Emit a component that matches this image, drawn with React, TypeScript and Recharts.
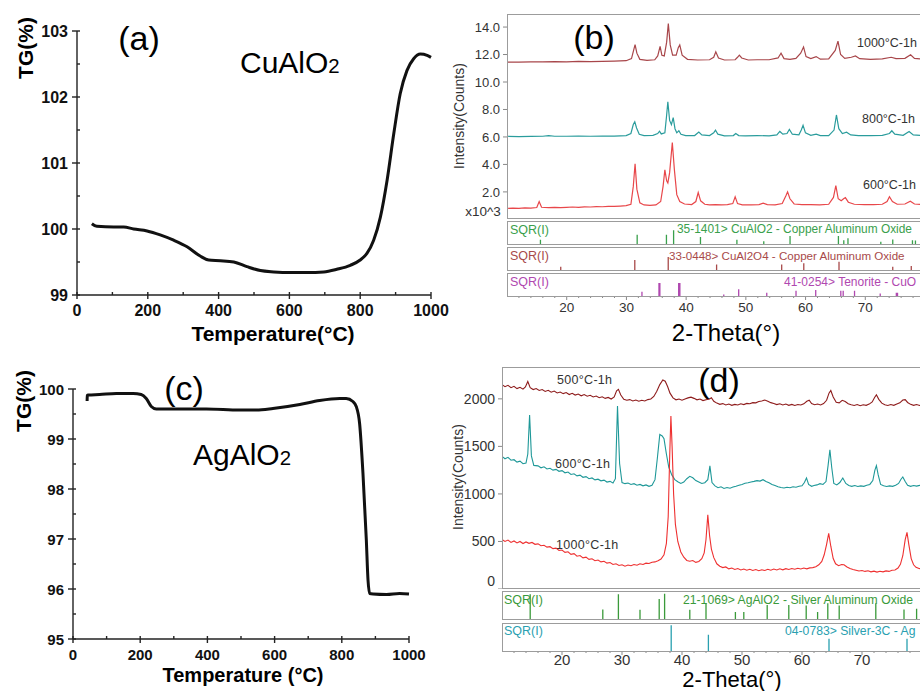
import React from 'react';
import { LineChart, Line, XAxis, YAxis } from 'recharts';

type Pt = [number, number];
type Stick = [number, number];

const FONT = '"Liberation Sans", Arial, Helvetica, sans-serif';

// ---- TG curves (temperature °C, mass %) ----
const tgCuAlO2: Pt[] = [
  [42, 100.08], [56, 100.04], [104, 100.03], [132, 100.03], [160, 100.0], [198, 99.97],
  [235, 99.91], [273, 99.83], [311, 99.73], [348, 99.59], [372, 99.53], [405, 99.52],
  [443, 99.5], [480, 99.43], [518, 99.37], [556, 99.35], [603, 99.34], [650, 99.34],
  [697, 99.35], [734, 99.39], [772, 99.45], [800, 99.53], [819, 99.63], [838, 99.83],
  [857, 100.18], [876, 100.74], [895, 101.45], [913, 102.05], [932, 102.4], [951, 102.58],
  [970, 102.65], [989, 102.63], [1000, 102.6],
];

const tgAgAlO2: Pt[] = [
  [42, 99.76], [42.5, 99.87], [45, 99.88], [79, 99.89], [129, 99.91], [179, 99.91],
  [203, 99.89], [218, 99.81], [233, 99.65], [248, 99.6], [298, 99.6], [397, 99.6],
  [496, 99.58], [546, 99.58], [595, 99.61], [675, 99.69], [734, 99.77], [794, 99.81],
  [813, 99.81], [833, 99.75], [843, 99.65], [853, 99.31], [863, 98.31], [873, 96.98],
  [878, 96.18], [883, 95.91], [893, 95.9], [933, 95.89], [972, 95.91], [1000, 95.9],
];

const tgXTicks = [0, 100, 200, 300, 400, 500, 600, 700, 800, 900, 1000];
const tgYTicksA = [99, 99.5, 100, 100.5, 101, 101.5, 102, 102.5, 103];
const tgYTicksC = [95, 95.5, 96, 96.5, 97, 97.5, 98, 98.5, 99, 99.5, 100];

// ---- XRD (b): CuAlO2, intensity x10^3 ----
const xrdB600: Pt[] = [
  [10, 0.8], [11, 0.82], [12, 0.8], [13, 0.83], [14, 0.82], [15, 0.86], [15.4, 1.3], [15.8, 0.88],
  [17, 0.85], [18, 0.87], [19, 0.86], [20, 0.88], [21, 0.9], [22, 0.88], [23, 0.91], [24, 0.9],
  [25, 0.93], [26, 0.92], [27, 0.95], [28, 0.94], [29, 0.97], [30, 1.0], [30.8, 1.1], [31.2, 2.4],
  [31.5, 4.05], [31.8, 2.2], [32.3, 1.2], [33, 1.05], [34, 1.02], [35, 1.05], [35.8, 1.3], [36.2, 2.4],
  [36.5, 3.6], [36.8, 2.8], [37.0, 2.65], [37.3, 3.4], [37.75, 5.6], [38.1, 3.6], [38.5, 1.8], [39, 1.3],
  [39.8, 1.12], [41, 1.08], [41.7, 1.3], [42.1, 1.95], [42.5, 1.35], [43.2, 1.1], [44, 1.06], [45, 1.08],
  [46, 1.05], [47, 1.07], [47.9, 1.15], [48.3, 1.65], [48.7, 1.15], [49.5, 1.06], [51, 1.05], [52.3, 1.08],
  [53, 1.18], [53.7, 1.08], [55, 1.06], [56.2, 1.15], [56.8, 1.7], [57.1, 2.0], [57.5, 1.5], [58.2, 1.12],
  [59.5, 1.07], [61, 1.08], [62.5, 1.06], [64, 1.1], [64.8, 1.6], [65.2, 2.45], [65.6, 1.5], [66.1, 1.35],
  [66.5, 1.5], [66.8, 1.58], [67.3, 1.25], [68.3, 1.1], [70, 1.08], [71.5, 1.07], [73, 1.1], [73.8, 1.3],
  [74.2, 1.65], [74.7, 1.3], [75.5, 1.1], [76.8, 1.12], [77.7, 1.32], [78.4, 1.12], [80, 1.08],
];

const xrdB800: Pt[] = [
  [10, 6.05], [12, 6.02], [14, 6.04], [16, 6.05], [17, 6.1], [18, 6.05], [20, 6.05], [22, 6.06],
  [24, 6.05], [26, 6.07], [28, 6.06], [30, 6.1], [30.8, 6.25], [31.2, 6.9], [31.45, 7.1], [31.75, 6.65],
  [32.2, 6.2], [33, 6.1], [34.5, 6.12], [35.3, 6.25], [35.6, 6.42], [35.9, 6.22], [36.5, 6.3], [36.8, 7.6],
  [37.0, 8.55], [37.3, 7.2], [37.6, 6.9], [37.9, 7.4], [38.2, 6.6], [38.5, 6.3], [38.85, 6.45], [39.2, 6.2],
  [40, 6.1], [41.5, 6.1], [42.2, 6.35], [42.7, 6.15], [44, 6.1], [44.7, 6.3], [45, 6.5], [45.4, 6.2],
  [46.5, 6.08], [48, 6.1], [48.4, 6.25], [48.9, 6.1], [50, 6.08], [52, 6.1], [54, 6.08], [55.3, 6.15],
  [55.8, 6.4], [56.3, 6.2], [57, 6.25], [57.4, 6.55], [57.9, 6.2], [59, 6.15], [59.4, 6.5], [59.7, 6.85],
  [60.1, 6.3], [61, 6.12], [61.9, 6.2], [62.6, 6.1], [64, 6.1], [64.9, 6.5], [65.3, 7.6], [65.7, 6.6],
  [66.3, 6.25], [67.0, 6.35], [67.7, 6.15], [69, 6.1], [71, 6.1], [73, 6.12], [74.2, 6.25], [74.6, 6.45],
  [75.1, 6.2], [76.5, 6.12], [77.5, 6.4], [78.2, 6.15], [80, 6.1],
];

const xrdB1000: Pt[] = [
  [10, 11.45], [12, 11.45], [14, 11.47], [16, 11.46], [18, 11.48], [20, 11.47], [22, 11.5], [24, 11.49],
  [26, 11.5], [28, 11.52], [30, 11.55], [30.9, 11.7], [31.25, 12.3], [31.5, 12.72], [31.8, 12.1], [32.3, 11.65],
  [33.5, 11.57], [34.8, 11.62], [35.3, 11.9], [35.7, 12.6], [36.0, 11.95], [36.4, 11.9], [36.8, 12.9], [37.08, 14.25],
  [37.4, 12.7], [37.8, 11.95], [38.4, 11.95], [38.75, 12.5], [39.0, 12.7], [39.4, 11.95], [40.3, 11.65], [42, 11.6],
  [44, 11.62], [44.7, 11.8], [45.05, 12.2], [45.5, 11.75], [46.5, 11.6], [48.3, 11.62], [48.7, 11.8], [49.0, 11.95],
  [49.4, 11.75], [50.5, 11.6], [52, 11.62], [54, 11.62], [55.5, 11.75], [56.0, 12.1], [56.5, 11.7], [57.5, 11.65],
  [58.5, 11.72], [59.3, 12.1], [59.78, 12.55], [60.2, 11.85], [61, 11.7], [61.9, 11.85], [62.6, 11.66], [64, 11.68],
  [65.1, 12.3], [65.56, 12.98], [66.0, 12.0], [66.7, 11.72], [67.8, 11.8], [68.5, 11.9], [69.2, 11.7], [71, 11.65],
  [73, 11.68], [74.5, 11.8], [75.3, 11.7], [76.8, 11.72], [77.75, 11.98], [78.4, 11.72], [80, 11.65],
];

// reference patterns (2θ, relative height)
const refCuAlO2: Stick[] = [
  [15.6, 0.18], [31.8, 0.4], [36.7, 0.4], [37.9, 0.6], [42.4, 0.3], [48.5, 0.18], [53.0, 0.12],
  [57.4, 0.35], [65.5, 0.35], [66.4, 0.16], [67.1, 0.25], [72.6, 0.1], [74.6, 0.2], [77.9, 0.16], [78.4, 0.15],
];
const refCuAl2O4: Stick[] = [
  [19.0, 0.14], [31.4, 0.43], [37.0, 0.57], [45.1, 0.24], [56.0, 0.24], [59.7, 0.29], [65.6, 0.36],
  [74.6, 0.14], [77.7, 0.17],
];
const refTenorite: Stick[] = [
  [32.6, 0.19], [35.45, 0.57], [35.6, 0.57], [38.75, 0.57], [38.95, 0.57], [46.3, 0.07], [48.8, 0.29],
  [53.5, 0.14], [58.4, 0.23], [61.7, 0.26], [65.9, 0.23], [66.3, 0.23], [68.2, 0.23], [72.5, 0.11],
  [75.2, 0.14], [75.4, 0.14],
];

// ---- XRD (d): AgAlO2, counts ----
const xrdD500: Pt[] = [
  [10, 2150], [10.5, 2128], [11, 2142], [11.5, 2118], [12, 2132], [12.5, 2108], [13, 2122], [13.5, 2102],
  [13.9, 2125], [14.3, 2182], [14.7, 2118], [15.2, 2098], [15.7, 2108], [16.2, 2088], [16.7, 2098], [17.2, 2078],
  [17.7, 2090], [18.2, 2070], [18.7, 2082], [19.2, 2062], [19.7, 2072], [20.2, 2055], [20.7, 2066], [21.2, 2045],
  [21.7, 2058], [22.2, 2040], [22.7, 2050], [23.2, 2032], [23.7, 2045], [24.2, 2028], [24.7, 2038], [25.2, 2020],
  [25.7, 2030], [26.2, 2012], [26.7, 2022], [27.2, 2005], [27.7, 2015], [28.2, 1998], [28.7, 2020], [29.1, 2085],
  [29.4, 2100], [29.8, 2040], [30.3, 1995], [30.8, 1985], [31.3, 1992], [31.8, 1978], [32.3, 1988], [32.8, 1975],
  [33.3, 1985], [33.8, 1978], [34.3, 1992], [34.8, 1998], [35.3, 2025], [35.8, 2080], [36.3, 2150], [36.8, 2198],
  [37.2, 2185], [37.6, 2130], [38, 2060], [38.5, 2010], [39, 1990], [39.5, 1998], [40, 1985], [40.5, 1998],
  [41, 2010], [41.5, 2018], [42, 2005], [42.5, 1990], [43, 1998], [43.5, 1982], [44, 1990], [44.5, 1995],
  [44.9, 2012], [45.3, 1975], [45.8, 1955], [46.3, 1942], [46.8, 1950], [47.3, 1935], [47.8, 1945], [48.3, 1932],
  [48.8, 1942], [49.3, 1935], [49.8, 1948], [50.3, 1940], [50.8, 1952], [51.3, 1948], [51.8, 1960], [52.3, 1958],
  [52.8, 1972], [53.3, 1978], [53.8, 1988], [54.3, 1975], [54.8, 1960], [55.3, 1952], [55.8, 1940], [56.3, 1948],
  [56.8, 1935], [57.3, 1945], [57.8, 1932], [58.3, 1942], [58.8, 1930], [59.3, 1940], [59.8, 1935], [60.3, 1948],
  [60.8, 1975], [61.2, 1985], [61.6, 1950], [62.1, 1938], [62.6, 1945], [63.1, 1935], [63.6, 1950], [64.1, 1985],
  [64.5, 2060], [64.8, 2088], [65.2, 2020], [65.7, 1965], [66.2, 1958], [66.7, 1985], [67.2, 1972], [67.7, 1948],
  [68.2, 1938], [68.7, 1930], [69.2, 1940], [69.7, 1928], [70.2, 1938], [70.7, 1932], [71.2, 1945], [71.7, 1968],
  [72.1, 2015], [72.4, 2042], [72.8, 1995], [73.3, 1955], [73.8, 1938], [74.3, 1930], [74.8, 1940], [75.3, 1932],
  [75.8, 1945], [76.3, 1958], [76.8, 1988], [77.2, 1992], [77.6, 1962], [78.1, 1942], [78.6, 1932], [79.1, 1940],
  [79.6, 1930], [80, 1938],
];

const xrdD600: Pt[] = [
  [10, 1395], [10.5, 1370], [11, 1385], [11.5, 1355], [12, 1360], [12.5, 1335], [13, 1345], [13.5, 1318],
  [14, 1325], [14.3, 1420], [14.6, 1830], [14.9, 1400], [15.3, 1300], [16, 1295], [16.5, 1275], [17, 1285],
  [17.5, 1262], [18, 1270], [18.5, 1250], [19, 1258], [19.5, 1238], [20, 1245], [20.5, 1222], [21, 1230],
  [21.5, 1205], [22, 1212], [22.5, 1190], [23, 1198], [23.5, 1175], [24, 1182], [24.5, 1160], [25, 1168],
  [25.5, 1148], [26, 1155], [26.5, 1138], [27, 1145], [27.5, 1125], [28, 1132], [28.5, 1115], [28.9, 1160],
  [29.25, 1925], [29.6, 1320], [30, 1120], [30.5, 1108], [31, 1115], [31.5, 1100], [32, 1108], [32.5, 1092],
  [33, 1100], [33.5, 1085], [34, 1095], [34.5, 1080], [35, 1090], [35.5, 1150], [35.9, 1380], [36.3, 1625],
  [36.7, 1610], [37, 1580], [37.4, 1420], [37.8, 1280], [38.3, 1200], [38.8, 1150], [39.3, 1128], [39.8, 1110],
  [40.3, 1125], [40.8, 1160], [41.3, 1185], [41.8, 1170], [42.3, 1140], [42.8, 1125], [43.3, 1110], [43.8, 1118],
  [44.3, 1150], [44.65, 1295], [45, 1120], [45.5, 1085], [46, 1065], [46.5, 1075], [47, 1058], [47.5, 1068],
  [48, 1060], [48.5, 1072], [49, 1080], [49.5, 1092], [50, 1100], [50.5, 1112], [51, 1118], [51.5, 1125],
  [52, 1132], [52.5, 1140], [53, 1135], [53.5, 1150], [54, 1130], [54.5, 1118], [55, 1100], [55.5, 1088],
  [56, 1075], [56.5, 1068], [57, 1062], [57.5, 1070], [58, 1065], [58.5, 1075], [59, 1070], [59.5, 1080],
  [60, 1085], [60.4, 1120], [60.75, 1168], [61.1, 1100], [61.6, 1080], [62, 1088], [62.5, 1095], [63, 1108],
  [63.5, 1100], [64, 1130], [64.35, 1300], [64.65, 1465], [64.95, 1280], [65.3, 1110], [65.8, 1095], [66.3, 1120],
  [66.8, 1168], [67.3, 1110], [67.8, 1088], [68.3, 1080], [68.8, 1088], [69.3, 1078], [69.8, 1085], [70.3, 1080],
  [70.8, 1092], [71.3, 1100], [71.8, 1140], [72.15, 1250], [72.4, 1297], [72.7, 1200], [73.1, 1100], [73.6, 1085],
  [74.1, 1078], [74.6, 1085], [75.1, 1080], [75.6, 1092], [76.1, 1110], [76.5, 1155], [76.8, 1178], [77.2, 1130],
  [77.6, 1090], [78.1, 1080], [78.6, 1088], [79.1, 1082], [79.6, 1090], [80, 1085],
];

const xrdD1000: Pt[] = [
  [10, 520], [10.5, 500], [11, 515], [11.5, 490], [12, 505], [12.5, 485], [13, 500], [13.5, 478],
  [14, 495], [14.5, 480], [15, 490], [15.5, 470], [16, 475], [16.5, 455], [17, 460], [17.5, 440],
  [18, 445], [18.5, 425], [19, 430], [19.5, 405], [20, 410], [20.5, 385], [21, 392], [21.5, 365],
  [22, 372], [22.5, 345], [23, 352], [23.5, 328], [24, 335], [24.5, 312], [25, 318], [25.5, 298],
  [26, 305], [26.5, 285], [27, 292], [27.5, 272], [28, 278], [28.5, 258], [29, 265], [29.5, 248],
  [30, 255], [30.5, 240], [31, 252], [31.5, 245], [32, 258], [32.5, 250], [33, 265], [33.5, 258],
  [34, 272], [34.5, 268], [35, 282], [35.5, 285], [36, 298], [36.5, 315], [37, 360], [37.4, 480],
  [37.7, 760], [37.95, 1400], [38.15, 1820], [38.35, 1500], [38.6, 1000], [38.9, 680], [39.3, 500], [39.8, 390],
  [40.3, 335], [40.8, 300], [41.3, 292], [41.8, 300], [42.3, 280], [42.8, 290], [43.3, 318], [43.7, 380],
  [44.0, 520], [44.3, 780], [44.6, 560], [44.9, 420], [45.3, 330], [45.8, 265], [46.3, 240], [46.8, 225],
  [47.3, 232], [47.8, 212], [48.3, 220], [48.8, 205], [49.3, 215], [49.8, 200], [50.3, 210], [50.8, 198],
  [51.3, 208], [51.8, 195], [52.3, 205], [52.8, 192], [53.3, 202], [53.8, 195], [54.3, 208], [54.8, 198],
  [55.3, 210], [55.8, 200], [56.3, 212], [56.8, 202], [57.3, 214], [57.8, 205], [58.3, 215], [58.8, 208],
  [59.3, 218], [59.8, 210], [60.3, 220], [60.8, 212], [61.3, 222], [61.8, 225], [62.3, 235], [62.8, 255],
  [63.3, 290], [63.7, 360], [64.1, 470], [64.45, 585], [64.8, 450], [65.2, 320], [65.6, 265], [66.1, 245],
  [66.6, 258], [67.0, 255], [67.5, 232], [68, 215], [68.5, 205], [69, 198], [69.5, 190], [70, 195],
  [70.5, 185], [71, 192], [71.5, 180], [72, 188], [72.5, 178], [73, 186], [73.5, 180], [74, 190],
  [74.5, 185], [75, 198], [75.5, 200], [76, 220], [76.4, 260], [76.8, 350], [77.2, 520], [77.5, 595],
  [77.8, 470], [78.2, 320], [78.6, 255], [79, 228], [79.5, 215], [80, 212],
];

const refAgAlO2: Stick[] = [
  [14.7, 0.88], [26.8, 0.34], [29.4, 0.88], [33.0, 0.33], [36.2, 0.71], [37.1, 0.9], [41.3, 0.33],
  [44.0, 0.56], [48.9, 0.25], [50.3, 0.25], [54.2, 0.5], [57.8, 0.5], [60.7, 0.48], [62.6, 0.25],
  [64.3, 0.56], [66.2, 0.48], [72.3, 0.56], [77.0, 0.34], [79.1, 0.37],
];
const refSilver: Stick[] = [[38.2, 0.92], [44.4, 0.58], [64.5, 0.44], [77.5, 0.44]];

const xrdXTicks = [12, 14, 16, 18, 20, 22, 24, 26, 28, 30, 32, 34, 36, 38, 40, 42, 44, 46, 48, 50,
  52, 54, 56, 58, 60, 62, 64, 66, 68, 70, 72, 74, 76, 78];
const xrdBYTicks = [2, 4, 6, 8, 10, 12, 14];
const xrdDYTicks = [0, 500, 1000, 1500, 2000];

const rows = (pts: Pt[]) => pts.map(([x, y]) => ({ x, y }));
// each stick becomes a tiny vertical segment; the null breaks the path between sticks
const stickRows = (sticks: Stick[]) =>
  sticks.flatMap(([x, h]) => [{ x, y: 0 }, { x, y: h }, { x, y: null }]);

// ---------- small helpers ----------
function Txt({ x, y, size, children, color = '#000', bold = false, anchor = 'middle', rotate = 0, spacing = 0 }: any) {
  const tx = anchor === 'middle' ? '-50%' : anchor === 'end' ? '-100%' : '0';
  return (
    <div
      style={{
        position: 'absolute', left: x, top: y, fontFamily: FONT, fontSize: size, color,
        fontWeight: bold ? 'bold' : 'normal', whiteSpace: 'nowrap', lineHeight: 1,
        letterSpacing: spacing,
        transform: `translate(${tx}, -50%)${rotate ? ` rotate(${rotate}deg)` : ''}`,
        transformOrigin: rotate ? '50% 50%' : undefined,
      }}
    >
      {children}
    </div>
  );
}

function Frame({ x, y, w, h }: any) {
  return (
    <div style={{ position: 'absolute', left: x, top: y, width: w, height: h, border: '1.5px solid #9c9c9c', boxSizing: 'border-box' }} />
  );
}

// TG axes: major ticks cross the axis line, minor ticks point inward
const TgTickX = (props: any) => {
  const { x, y, payload, size } = props;
  const major = payload.value % 200 === 0;
  return (
    <g>
      <line x1={x} y1={y - 3} x2={x} y2={y + (major ? 4 : 0)} stroke="#222" strokeWidth={1.4} />
      {major && (
        <text x={x} y={y + 21} textAnchor="middle" fontSize={size} fontWeight="bold" fontFamily={FONT} fill="#111">
          {payload.value}
        </text>
      )}
    </g>
  );
};

const TgTickY = (props: any) => {
  const { x, y, payload, size } = props;
  const major = Number.isInteger(payload.value);
  return (
    <g>
      <line x1={x + 3} y1={y} x2={x - (major ? 5 : 0)} y2={y} stroke="#222" strokeWidth={1.4} />
      {major && (
        <text x={x - 9} y={y + 5.5} textAnchor="end" fontSize={size} fontWeight="bold" fontFamily={FONT} fill="#111">
          {payload.value}
        </text>
      )}
    </g>
  );
};

const XrdTickX = (props: any) => {
  const { x, y, payload, size, dy } = props;
  const major = payload.value % 10 === 0;
  return (
    <g>
      <line x1={x} y1={y} x2={x} y2={y + (major ? 4 : 2)} stroke="#888" strokeWidth={1} />
      {major && (
        <text x={x} y={y + dy} textAnchor="middle" fontSize={size} fontFamily={FONT} fill="#333">
          {payload.value}
        </text>
      )}
    </g>
  );
};

// the "0" label of panel (d) sits a little above its tick, as in the original
const XrdTickYD = (props: any) => {
  const { x, y, payload } = props;
  return (
    <text x={x} y={y + 5 - (payload.value === 0 ? 8 : 0)} textAnchor="end" fontSize={14} fontFamily={FONT} fill="#333">
      {payload.value}
    </text>
  );
};

function TgPanel({ left, top, width, height, margin, data, yDomain, yTicks, fontSize }: any) {
  return (
    <div style={{ position: 'absolute', left, top }}>
      <LineChart width={width} height={height} data={rows(data)} margin={margin}>
        <XAxis
          dataKey="x" type="number" domain={[0, 1000]} ticks={tgXTicks} interval={0} height={30}
          tickSize={0} tickMargin={0} tickLine={false} tick={<TgTickX size={fontSize} />}
          axisLine={{ stroke: '#222', strokeWidth: 1.4 }}
        />
        <YAxis
          type="number" domain={yDomain} ticks={yTicks} interval={0} width={60}
          tickSize={0} tickMargin={0} tickLine={false} tick={<TgTickY size={fontSize} />}
          axisLine={{ stroke: '#222', strokeWidth: 1.4 }}
        />
        <Line dataKey="y" type="monotone" stroke="#111" strokeWidth={3} dot={false} isAnimationActive={false} />
      </LineChart>
    </div>
  );
}

function StickPanel({ left, top, width, height, sticks, color, withAxis = false, tickSize = 14, tickDy = 16 }: any) {
  return (
    <div style={{ position: 'absolute', left, top }}>
      <LineChart width={width} height={height + (withAxis ? 30 : 0)} data={stickRows(sticks)} margin={{ top: 0, right: 0, bottom: 0, left: 0 }}>
        <XAxis
          dataKey="x" type="number" domain={[10, 80]} ticks={xrdXTicks} interval={0}
          hide={!withAxis} height={30} axisLine={false} tickLine={false} tickSize={0} tickMargin={0}
          tick={<XrdTickX size={tickSize} dy={tickDy} />}
        />
        <YAxis type="number" domain={[0, 1]} hide />
        <Line dataKey="y" type="linear" stroke={color} strokeWidth={1.3} dot={false} connectNulls={false} isAnimationActive={false} />
      </LineChart>
    </div>
  );
}

export default function App() {
  return (
    <div style={{ position: 'absolute', left: 0, top: 0, width: 920, height: 691, overflow: 'hidden', background: '#fff' }}>
      {/* (a) TG of CuAlO2 */}
      <TgPanel
        left={0} top={0} width={450} height={340}
        margin={{ top: 31, right: 19, bottom: 15, left: 17 }}
        data={tgCuAlO2} yDomain={[99, 103]} yTicks={tgYTicksA} fontSize={16}
      />
      <Txt x={25} y={48} size={21} bold rotate={-90}>TG(%)</Txt>
      <Txt x={273} y={333} size={21} bold>Temperature(°C)</Txt>
      <Txt x={139} y={38} size={34}>(a)</Txt>
      <Txt x={240} y={63} size={30} anchor="start">
        CuAlO<span style={{ fontSize: '0.68em' }}>2</span>
      </Txt>

      {/* (c) TG of AgAlO2 */}
      <TgPanel
        left={0} top={340} width={450} height={351}
        margin={{ top: 49, right: 41, bottom: 22, left: 13 }}
        data={tgAgAlO2} yDomain={[95, 100]} yTicks={tgYTicksC} fontSize={15}
      />
      <Txt x={23} y={401} size={21} bold rotate={-90}>TG(%)</Txt>
      <Txt x={243} y={675} size={20} bold>Temperature (°C)</Txt>
      <Txt x={184} y={388} size={34}>(c)</Txt>
      <Txt x={193} y={455} size={30} anchor="start">
        AgAlO<span style={{ fontSize: '0.68em' }}>2</span>
      </Txt>

      {/* (b) XRD of CuAlO2 */}
      <div style={{ position: 'absolute', left: 450, top: 14 }}>
        <LineChart width={474} height={204} margin={{ top: 0, right: 0, bottom: 0, left: 0 }}>
          <XAxis dataKey="x" type="number" domain={[10, 80]} hide allowDataOverflow />
          <YAxis
            type="number" domain={[0.1, 14.95]} ticks={xrdBYTicks} interval={0} width={57}
            allowDataOverflow axisLine={false} tickSize={4} tickMargin={3}
            tickLine={{ stroke: '#888' }} tickFormatter={(v: number) => v.toFixed(1)}
            tick={{ fontSize: 13, fill: '#333', fontFamily: FONT }}
          />
          <Line data={rows(xrdB600)} dataKey="y" type="linear" stroke="#e8474a" strokeWidth={1.2} dot={false} isAnimationActive={false} />
          <Line data={rows(xrdB800)} dataKey="y" type="linear" stroke="#2a9c9c" strokeWidth={1.2} dot={false} isAnimationActive={false} />
          <Line data={rows(xrdB1000)} dataKey="y" type="linear" stroke="#a8464a" strokeWidth={1.2} dot={false} isAnimationActive={false} />
        </LineChart>
      </div>
      <Frame x={507} y={14} w={440} h={205} />
      <Txt x={483} y={212} size={13.5} color="#333">x10^3</Txt>
      <Txt x={459} y={116} size={14} color="#333" rotate={-90}>Intensity(Counts)</Txt>
      <Txt x={594} y={37} size={34}>(b)</Txt>
      <Txt x={857} y={43} size={12.5} color="#333" anchor="start">1000°C-1h</Txt>
      <Txt x={862} y={119} size={12.5} color="#333" anchor="start">800°C-1h</Txt>
      <Txt x={863} y={185} size={12.5} color="#333" anchor="start">600°C-1h</Txt>

      <StickPanel left={507} top={221} width={418} height={23} sticks={refCuAlO2} color="#3aa04c" />
      <StickPanel left={507} top={247} width={418} height={23} sticks={refCuAl2O4} color="#a84a4a" />
      <StickPanel left={507} top={273} width={418} height={23} sticks={refTenorite} color="#b048b0" withAxis tickSize={13.5} tickDy={16} />
      <Frame x={507} y={221} w={440} h={24} />
      <Frame x={507} y={247} w={440} h={24} />
      <Frame x={507} y={273} w={440} h={24} />
      <Txt x={510} y={230} size={12.5} color="#3aa04c" anchor="start">SQR(I)</Txt>
      <Txt x={677} y={230} size={11.9} color="#3aa04c" anchor="start">35-1401&gt; CuAlO2 - Copper Aluminum Oxide</Txt>
      <Txt x={510} y={256} size={12.5} color="#a84a4a" anchor="start">SQR(I)</Txt>
      <Txt x={669} y={256} size={11.6} color="#a84a4a" anchor="start">33-0448&gt; CuAl2O4 - Copper Aluminum Oxide</Txt>
      <Txt x={510} y={282} size={12.5} color="#b048b0" anchor="start">SQR(I)</Txt>
      <Txt x={784} y={282} size={12} color="#b048b0" anchor="start">41-0254&gt; Tenorite - CuO</Txt>
      <Txt x={726} y={333} size={24}>2-Theta(°)</Txt>

      {/* (d) XRD of AgAlO2 */}
      <div style={{ position: 'absolute', left: 450, top: 367 }}>
        <LineChart width={472} height={222} margin={{ top: 0, right: 0, bottom: 0, left: 0 }}>
          <XAxis dataKey="x" type="number" domain={[10, 80]} hide allowDataOverflow />
          <YAxis
            type="number" domain={[0, 2335]} ticks={xrdDYTicks} interval={0} width={52}
            allowDataOverflow axisLine={false} tickSize={4} tickMargin={3}
            tickLine={{ stroke: '#888' }} tick={<XrdTickYD />}
          />
          <Line data={rows(xrdD500)} dataKey="y" type="linear" stroke="#8e1c1c" strokeWidth={1.1} dot={false} isAnimationActive={false} />
          <Line data={rows(xrdD600)} dataKey="y" type="linear" stroke="#1e9898" strokeWidth={1.1} dot={false} isAnimationActive={false} />
          <Line data={rows(xrdD1000)} dataKey="y" type="linear" stroke="#ee3030" strokeWidth={1.1} dot={false} isAnimationActive={false} />
        </LineChart>
      </div>
      <Frame x={502} y={367} w={440} h={222} />
      <Txt x={458} y={477} size={14} color="#333" rotate={-90}>Intensity(Counts)</Txt>
      <Txt x={719} y={380} size={34}>(d)</Txt>
      <Txt x={557} y={380} size={12.5} color="#333" anchor="start" spacing={0.3}>500°C-1h</Txt>
      <Txt x={555} y={464} size={12.5} color="#333" anchor="start" spacing={0.3}>600°C-1h</Txt>
      <Txt x={556} y={545} size={12.5} color="#333" anchor="start" spacing={0.3}>1000°C-1h</Txt>

      <StickPanel left={502} top={591} width={420} height={28} sticks={refAgAlO2} color="#3a9a3a" />
      <StickPanel left={502} top={623} width={420} height={28} sticks={refSilver} color="#2aa0b0" withAxis tickSize={15} tickDy={14} />
      <Frame x={502} y={591} w={440} h={29} />
      <Frame x={502} y={623} w={440} h={29} />
      <Txt x={504} y={600} size={12.5} color="#3a9a3a" anchor="start">SQR(I)</Txt>
      <Txt x={683} y={600} size={12.2} color="#3a9a3a" anchor="start">21-1069&gt; AgAlO2 - Silver Aluminum Oxide</Txt>
      <Txt x={504} y={631} size={12.5} color="#2aa0b0" anchor="start">SQR(I)</Txt>
      <Txt x={785} y={631} size={12.2} color="#2aa0b0" anchor="start">04-0783&gt; Silver-3C - Ag</Txt>
      <Txt x={732} y={680} size={22}>2-Theta(°)</Txt>
    </div>
  );
}
